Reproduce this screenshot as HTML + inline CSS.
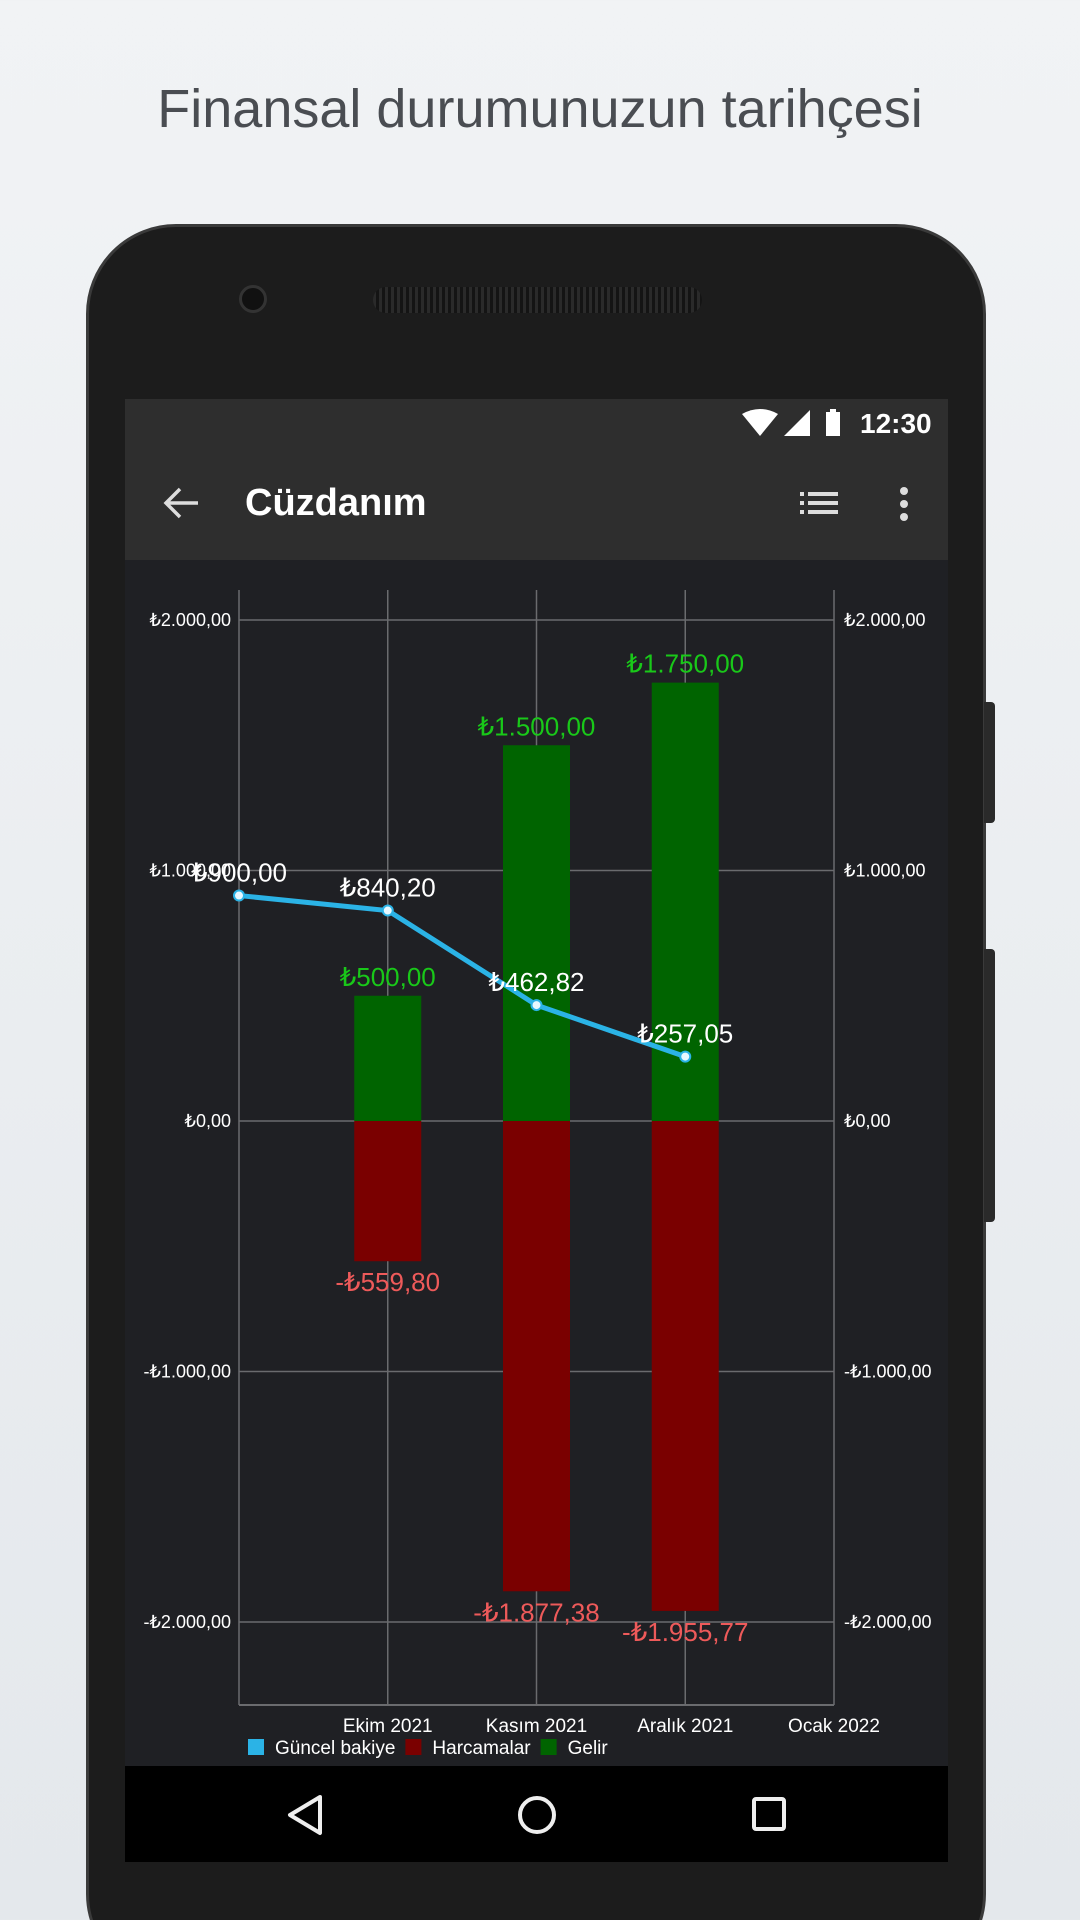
<!DOCTYPE html>
<html><head><meta charset="utf-8">
<style>
html,body{margin:0;padding:0;width:1080px;height:1920px;overflow:hidden;font-family:"Liberation Sans",sans-serif;}
body{background:linear-gradient(#f1f3f5,#e4e8ec);position:relative;}
.abs{position:absolute;}
</style></head>
<body>
<div class="abs" style="left:0;width:1080px;top:78px;text-align:center;font-size:54px;color:#4a4d52;">Finansal durumunuzun tarihçesi</div>
<div class="abs" style="left:86px;top:224px;width:900px;height:1760px;background:#1c1c1c;border-radius:90px;border:3px solid #3a3a3a;box-sizing:border-box;"></div>
<div class="abs" style="left:984px;top:702px;width:11px;height:121px;background:#2a2a2a;border-radius:0 4px 4px 0;"></div>
<div class="abs" style="left:984px;top:949px;width:11px;height:273px;background:#2a2a2a;border-radius:0 4px 4px 0;"></div>
<div class="abs" style="left:239px;top:285px;width:28px;height:28px;border-radius:50%;background:#111;border:3px solid #333;box-sizing:border-box;"></div>
<div class="abs" style="left:373px;top:287px;width:329px;height:26px;border-radius:13px;background:repeating-linear-gradient(90deg,#2a2a2a 0 3px,#141414 3px 6px);"></div>
<div class="abs" style="left:125px;top:399px;width:823px;height:50px;background:#2e2e2e;"></div>
<svg class="abs" style="left:740px;top:408px" width="110" height="32">
<path d="M2 6 Q20 -4 38 6 L20 28 Z" fill="#fff"/>
<path d="M44 28 L70 2 L70 28 Z" fill="#fff"/>
<rect x="86" y="4" width="14" height="24" fill="#fff"/><rect x="90" y="1" width="6" height="4" fill="#fff"/>
</svg>
<div class="abs" style="left:860px;top:408px;font-size:28px;color:#fff;font-weight:bold;">12:30</div>
<div class="abs" style="left:125px;top:449px;width:823px;height:111px;background:#2e2e2e;"></div>
<svg class="abs" style="left:162px;top:486px" width="38" height="34"><path d="M36 17 H5 M18 3 L4 17 L18 31" stroke="#ddd" stroke-width="3.5" fill="none"/></svg>
<div class="abs" style="left:245px;top:482px;font-size:38px;color:#fff;font-weight:bold;">Cüzdanım</div>
<svg class="abs" style="left:800px;top:490px" width="40" height="26"><g fill="#ddd"><rect x="0" y="2" width="4" height="4"/><rect x="8" y="2" width="30" height="4"/><rect x="0" y="11" width="4" height="4"/><rect x="8" y="11" width="30" height="4"/><rect x="0" y="20" width="4" height="4"/><rect x="8" y="20" width="30" height="4"/></g></svg>
<svg class="abs" style="left:896px;top:486px" width="16" height="36"><g fill="#ddd"><circle cx="8" cy="5" r="4"/><circle cx="8" cy="18" r="4"/><circle cx="8" cy="31" r="4"/></g></svg>
<div class="abs" style="left:125px;top:560px;width:823px;height:1206px;background:#1f2024;"></div>
<svg id="chart" class="abs" style="left:0;top:0" width="1080" height="1920"></svg>
<div class="abs" style="left:125px;top:1766px;width:823px;height:96px;background:#000;"></div>
<svg class="abs" style="left:280px;top:1790px" width="50" height="50"><path d="M40 7 L10 25 L40 43 Z" stroke="#eee" stroke-width="4" fill="none" stroke-linejoin="round"/></svg>
<svg class="abs" style="left:512px;top:1790px" width="50" height="50"><circle cx="25" cy="25" r="17" stroke="#eee" stroke-width="4" fill="none"/></svg>
<svg class="abs" style="left:745px;top:1790px" width="50" height="50"><rect x="9" y="9" width="30" height="30" rx="2" stroke="#eee" stroke-width="4" fill="none"/></svg>
<script>
const categories=["Eylül 2021","Ekim 2021","Kasım 2021","Aralık 2021","Ocak 2022"];
const xTickLabels=["","Ekim 2021","Kasım 2021","Aralık 2021","Ocak 2022"];
const balance=[900,840.20,462.82,257.05];
const balanceLabels=["₺900,00","₺840,20","₺462,82","₺257,05"];
const income=[null,500,1500,1750];
const incomeLabels=["","₺500,00","₺1.500,00","₺1.750,00"];
const expenses=[null,-559.80,-1877.38,-1955.77];
const expenseLabels=["","-₺559,80","-₺1.877,38","-₺1.955,77"];
const yTicks=[2000,1000,0,-1000,-2000];
const yTickLabels=["₺2.000,00","₺1.000,00","₺0,00","-₺1.000,00","-₺2.000,00"];
const svg=document.getElementById('chart');const NS='http://www.w3.org/2000/svg';
const L=239,R=834,T=590,B=1705;
const xs=i=>L+i*(R-L)/(categories.length-1);
const ys=v=>1121-v*0.2505;
function el(t,a,txt){const e=document.createElementNS(NS,t);for(const k in a)e.setAttribute(k,a[k]);if(txt!==undefined)e.textContent=txt;svg.appendChild(e);return e;}
yTicks.forEach((v,i)=>{
 let g=el('line',{x1:L,x2:R,y1:ys(v),y2:ys(v),stroke:'#6a6b6e','stroke-width':1.5});
 
 let t=el('text',{x:L-8,y:ys(v)+6,'text-anchor':'end','font-size':18,fill:'#fff'},yTickLabels[i]);
 
 let t2=el('text',{x:R+10,y:ys(v)+6,'font-size':18,fill:'#fff'},yTickLabels[i]);
 
});
categories.forEach((c,i)=>{
 let g=el('line',{x1:xs(i),x2:xs(i),y1:T,y2:B,stroke:'#6a6b6e','stroke-width':1.5});
 
 let t=el('text',{x:xs(i),y:1732,'text-anchor':'middle','font-size':19,fill:'#fff'},xTickLabels[i]);
 
});
let bl=el('line',{x1:L,x2:R,y1:B,y2:B,stroke:'#6a6b6e','stroke-width':2});

const bw=67;
income.forEach((v,i)=>{if(v==null)return;
 let r=el('rect',{x:xs(i)-bw/2,y:ys(v),width:bw,height:ys(0)-ys(v),fill:'#006400'});
 
});
expenses.forEach((v,i)=>{if(v==null)return;
 let r=el('rect',{x:xs(i)-bw/2,y:ys(0),width:bw,height:ys(v)-ys(0),fill:'#7a0000'});
 
});
income.forEach((v,i)=>{if(v==null)return;
 let t=el('text',{x:xs(i),y:ys(v)-10,'text-anchor':'middle','font-size':26,fill:'#19c819'},incomeLabels[i]);
 
});
expenses.forEach((v,i)=>{if(v==null)return;
 let t=el('text',{x:xs(i),y:ys(v)+30,'text-anchor':'middle','font-size':26,fill:'#ee5a5a'},expenseLabels[i]);
 
});
let pl=el('polyline',{points:balance.map((v,i)=>xs(i)+','+ys(v)).join(' '),fill:'none',stroke:'#2bb3e6','stroke-width':5});

balance.forEach((v,i)=>{
 let c=el('circle',{cx:xs(i),cy:ys(v),r:5,fill:'#e8f8ff',stroke:'#2bb3e6','stroke-width':2});
 
 let t=el('text',{x:xs(i),y:ys(v)-14,'text-anchor':'middle','font-size':26,fill:'#fff'},balanceLabels[i]);
 
});
const legend=[["Güncel bakiye","#2bb3e6"],["Harcamalar","#7a0000"],["Gelir","#006400"]];
let lx=248;
legend.forEach(([n,c])=>{
 let r=el('rect',{x:lx,y:1739,width:16,height:16,fill:c});
 
 let t=el('text',{x:lx+27,y:1754,'font-size':19,fill:'#fff'},n);
 
 lx+=27+t.getComputedTextLength()+10;
});
</script>
</body></html>
